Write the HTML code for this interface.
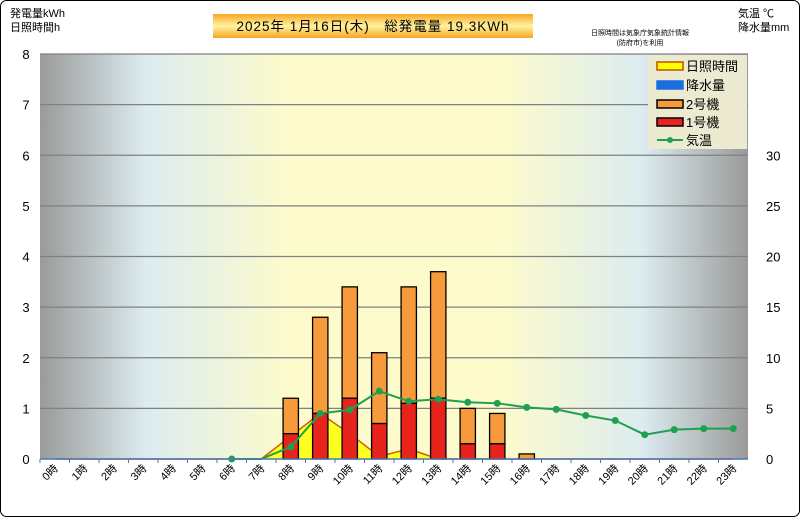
<!DOCTYPE html>
<html><head><meta charset="utf-8">
<style>
body{margin:0;background:#fff;}
#wrap{position:relative;width:800px;height:517px;overflow:hidden;font-family:"Liberation Sans","Noto Sans CJK JP",sans-serif;}
</style></head>
<body>
<div id="wrap">
<svg id="chart" width="800" height="517" xmlns="http://www.w3.org/2000/svg">
<defs>
<linearGradient id="bg" x1="0" x2="1" y1="0" y2="0">
<stop offset="0" stop-color="#9a9a9a"/>
<stop offset="0.15" stop-color="#dcecf0"/>
<stop offset="0.35" stop-color="#fdfbcc"/>
<stop offset="0.65" stop-color="#fdfbcc"/>
<stop offset="0.85" stop-color="#dcecf0"/>
<stop offset="1" stop-color="#9a9a9a"/>
</linearGradient>
<linearGradient id="tg" x1="0" x2="0" y1="0" y2="1">
<stop offset="0" stop-color="#f6a623"/>
<stop offset="0.5" stop-color="#fff3a0"/>
<stop offset="1" stop-color="#f6a623"/>
</linearGradient>
</defs>
<rect x="0.5" y="0.5" width="799" height="516" rx="6" fill="#fff" stroke="#000"/>
<rect x="40" y="54" width="708" height="405" fill="url(#bg)"/>
<g id="grid"></g>
<g id="marks"></g>
<g id="axes" font-size="12" fill="#000"></g>
<text x="10" y="17" font-size="11">発電量kWh</text>
<text x="10" y="31" font-size="11">日照時間h</text>
<text x="738" y="17" font-size="11">気温 ℃</text>
<text x="738" y="31" font-size="11">降水量mm</text>
<rect x="213" y="14" width="320" height="24" fill="url(#tg)"/>
<text x="373" y="31" font-size="13.5" letter-spacing="1" text-anchor="middle">2025年 1月16日(木)　総発電量 19.3KWh</text>
<text x="640" y="35" font-size="7" text-anchor="middle">日照時間は気象庁気象統計情報</text>
<text x="640" y="45" font-size="7" text-anchor="middle">(防府市)を利用</text>
<g>
<rect x="648" y="55" width="99" height="94" fill="#ecebd2"/>
<g><rect x="657" y="62" width="26" height="8" fill="#ffff00" stroke="#c05000" stroke-width="1.5"/><text x="686" y="71" font-size="13">日照時間</text></g>
<g><rect x="657" y="81" width="26" height="8" fill="#1a6fe0" stroke="#1a6fe0" stroke-width="1.5"/><text x="686" y="90" font-size="13">降水量</text></g>
<g><rect x="657" y="100" width="26" height="8" fill="#f79a3c" stroke="#000" stroke-width="1.5"/><text x="686" y="109" font-size="13">2号機</text></g>
<g><rect x="657" y="118" width="26" height="8" fill="#e8231c" stroke="#000" stroke-width="1.5"/><text x="686" y="127" font-size="13">1号機</text></g>
<g><line x1="657" y1="140" x2="683" y2="140" stroke="#1fa050" stroke-width="2"/><circle cx="670" cy="140" r="3" fill="#1fa050"/><text x="686" y="145" font-size="13">気温</text></g>
</g>
</svg>
</div>
<script>
const hours = ["0時","1時","2時","3時","4時","5時","6時","7時","8時","9時","10時","11時","12時","13時","14時","15時","16時","17時","18時","19時","20時","21時","22時","23時"];
const unit1 = [0,0,0,0,0,0,0,0,0.5,0.9,1.2,0.7,1.1,1.2,0.3,0.3,0,0,0,0,0,0,0,0];
const totalGen = [0,0,0,0,0,0,0,0,1.2,2.8,3.4,2.1,3.4,3.7,1.0,0.9,0.1,0,0,0,0,0,0,0];
const sunshine = [0,0,0,0,0,0,0,0,0.45,0.9,0.5,0.05,0.2,0,0,0,0,0,0,0,0,0,0,0];
const rain = [0,0,0,0,0,0,0,0,0,0,0,0,0,0,0,0,0,0,0,0,0,0,0,0];
const temp = [null,null,null,null,null,null,0,0,1.2,4.5,4.85,6.7,5.7,5.9,5.6,5.5,5.1,4.9,4.3,3.8,2.4,2.9,3.0,3.0];
const tempMarkers = [false,false,false,false,false,false,true,false,true,true,true,true,true,true,true,true,true,true,true,true,true,true,true,true];
const leftTicks = [0,1,2,3,4,5,6,7,8];
const rightTicks = [0,5,10,15,20,25,30];

const X0=40,X1=748,Y0=459,Y1=54,LMAX=8,RMAX=40;
const band=(X1-X0)/hours.length;
const xc=i=>X0+band*(i+0.5);
const yL=v=>Y0-(v/LMAX)*(Y0-Y1);
const yR=v=>Y0-(v/RMAX)*(Y0-Y1);
const NS="http://www.w3.org/2000/svg";
function mk(tag,attrs,parent){const e=document.createElementNS(NS,tag);for(const k in attrs)e.setAttribute(k,attrs[k]);parent.appendChild(e);return e;}
const grid=document.getElementById('grid'),marks=document.getElementById('marks'),axes=document.getElementById('axes');

leftTicks.forEach(v=>{
  if(v>0){const l=mk('line',{x1:X0,x2:X1,y1:yL(v),y2:yL(v),stroke:'#808080','stroke-width':1.2},grid);
  
  }
  const t=mk('text',{x:26,y:yL(v)+5,'text-anchor':'middle','font-size':13},axes);t.textContent=v;
  
  
});
rightTicks.forEach(v=>{
  const t=mk('text',{x:766,y:yR(v)+5,'text-anchor':'start','font-size':13},axes);t.textContent=v;
  
  
});

let d='M'+xc(0)+','+Y0;
sunshine.forEach((v,i)=>{d+=' L'+xc(i)+','+yL(v);});
d+=' L'+xc(sunshine.length-1)+','+Y0+' Z';
const area=mk('path',{d:d,fill:'#ffff20',stroke:'none'},marks);


let dl='';
sunshine.forEach((v,i)=>{dl+=(i?' L':'M')+xc(i)+','+yL(v);});
const sl=mk('path',{d:dl,fill:'none',stroke:'#d05a10','stroke-width':1.5},marks);



const bw=band*0.52;
hours.forEach((h,i)=>{
  const t=totalGen[i],u1=unit1[i];
  if(t<=0)return;
  const b2=mk('rect',{x:xc(i)-bw/2,y:yL(t),width:bw,height:yL(u1)-yL(t),fill:'#f79a3c',stroke:'#000','stroke-width':1.3},marks);
  
  
  if(u1>0){const b1=mk('rect',{x:xc(i)-bw/2,y:yL(u1),width:bw,height:Y0-yL(u1),fill:'#e8231c',stroke:'#000','stroke-width':1.3},marks);
  
  }
});

rain.forEach((v,i)=>{ if(v>0){const r=mk('rect',{x:xc(i)-bw/2,y:yR(v),width:bw,height:Y0-yR(v),fill:'#1a6fe0'},marks);
  
  }});

const ax=mk('line',{x1:X0,x2:X1,y1:Y0,y2:Y0,stroke:'#4a7ab0','stroke-width':1.5},axes);


hours.forEach((h,i)=>{
  mk('line',{x1:X0+band*i,x2:X0+band*i,y1:Y0,y2:Y0+4,stroke:'#4a7ab0'},axes);
  const t=mk('text',{transform:'translate('+(xc(i)+4)+','+(Y0+10)+') rotate(-45)','text-anchor':'end','font-size':11},axes);
  t.textContent=h;
  
  
});

let dt='';let started=false;
temp.forEach((v,i)=>{if(v===null)return;dt+=(started?' L':'M')+xc(i)+','+yR(v);started=true;});
const tl=mk('path',{d:dt,fill:'none',stroke:'#1fa050','stroke-width':2},marks);


temp.forEach((v,i)=>{if(v===null||!tempMarkers[i])return;
  const c=mk('circle',{cx:xc(i),cy:yR(v),r:3.5,fill:'#1fa050'},marks);
  
  });
</script>
</body></html>
